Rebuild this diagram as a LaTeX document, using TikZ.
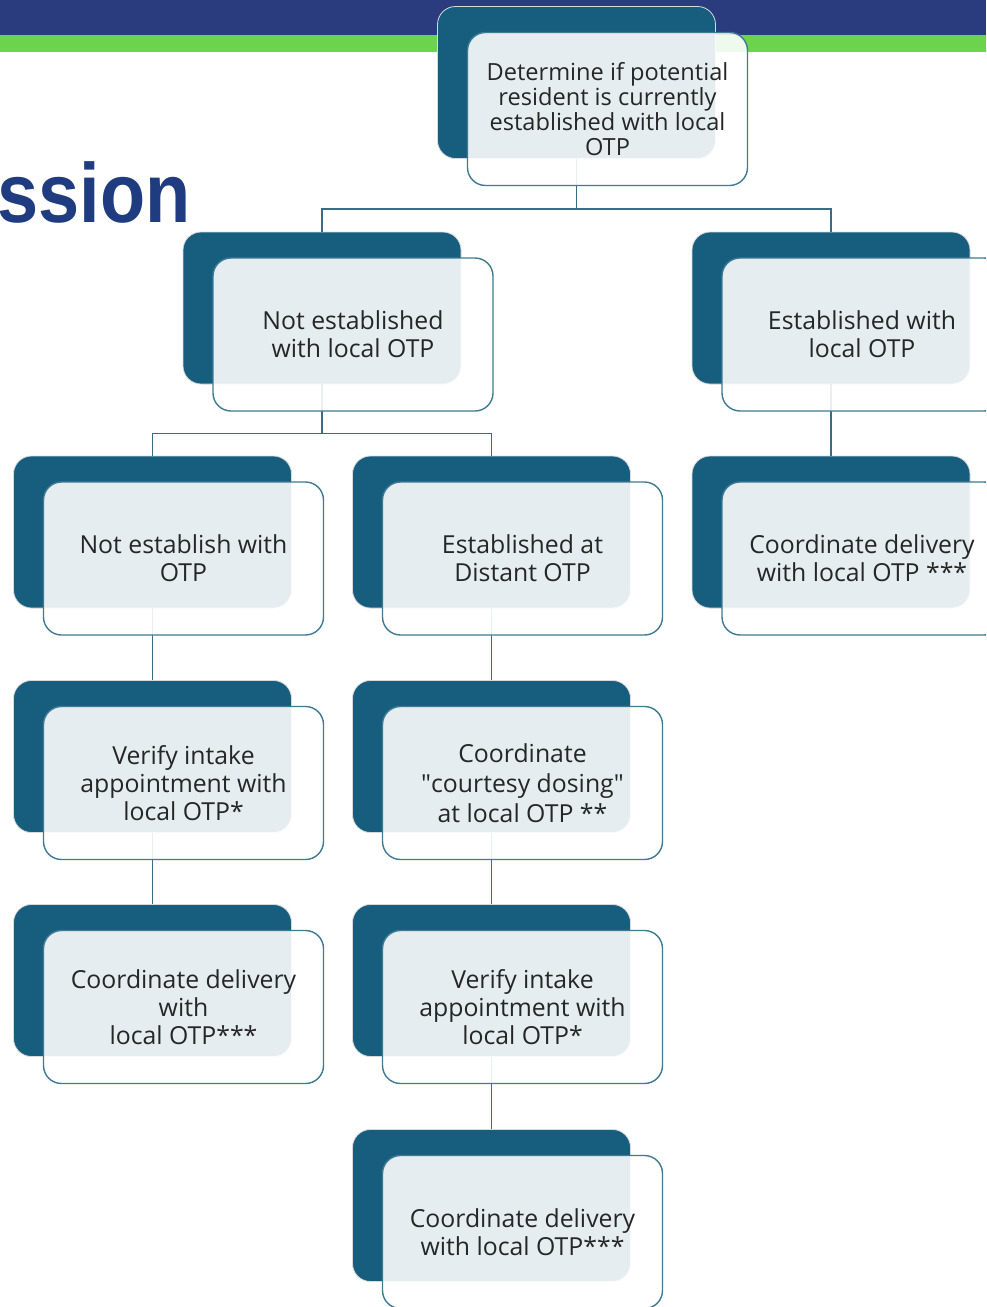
\documentclass[tikz,border=0pt]{standalone}
\usepackage{fontspec}
\setmainfont{Open Sans}
\newfontfamily\titlefont{Liberation Sans}
\usepackage{tikz}
\usetikzlibrary{positioning}
\definecolor{bannerblue}{HTML}{2B3C7E}
\definecolor{bannergreen}{HTML}{6CD44C}
\definecolor{titleblue}{HTML}{1F3C80}
\definecolor{cardteal}{HTML}{175E7E}
\definecolor{cardedge}{HTML}{3F7A94}
\definecolor{linkteal}{HTML}{3A6C85}
\tikzset{card_back/.style={rectangle, rounded corners=9pt, minimum width=139pt, minimum height=76pt, fill=cardteal, draw=black!15, line width=0.4pt}}
\tikzset{card_front/.style={rectangle, rounded corners=9pt, minimum width=140pt, minimum height=76.5pt, fill=white, fill opacity=0.89, text opacity=1, draw=cardedge, line width=0.7pt, align=center, text=black!85, font=\fontsize{12.4}{14}\selectfont}}
\tikzset{card_link/.style={draw=linkteal, line width=0.9pt}}

\begin{document}
\begin{tikzpicture}[x=0.5pt, y=-0.5pt]
    \useasboundingbox (0,0) rectangle (986,1307);
    \clip (0,0) rectangle (986,1307);
    % banner and title
    \fill[bannerblue] (0,0) rectangle (986,35);
    \fill[bannergreen] (0,35) rectangle (986,52);
    \node[anchor=base east, inner sep=0pt, xscale=0.88, text=titleblue, font=\titlefont\bfseries\fontsize{42}{42}\selectfont] (title) at (191,222) {ssion};

    % dark cards
    \node[card_back] (det) at (576.5,82.5) {};
    \node[card_back] (nl) at (322,308) {};
    \node[card_back] (el) at (831,308) {};
    \node[card_back] (no) at (152.5,532) {};
    \node[card_back] (dist) at (491.5,532) {};
    \node[card_back] (cr) at (831,532) {};
    \node[card_back] (vl) at (152.5,756.5) {};
    \node[card_back] (court) at (491.5,756.5) {};
    \node[card_back] (cl) at (152.5,980.5) {};
    \node[card_back] (vm) at (491.5,980.5) {};
    \node[card_back] (cm) at (491.5,1205.5) {};

    % connectors
    \coordinate (bus1) at (576.5,209);
    \coordinate (bus2) at (322,433.5);
    \draw[card_link] (det.south) -- (bus1) -| (nl.north);
    \draw[card_link] (bus1) -| (el.north);
    \draw[card_link] (nl.south) -- (bus2) -| (no.north);
    \draw[card_link] (bus2) -| (dist.north);
    \path[card_link]
        (el) edge (cr)
        (no) edge (vl)
        (vl) edge (cl)
        (dist) edge (court)
        (court) edge (vm)
        (vm) edge (cm)
    ;

    % light cards with text
    \node[card_front, font=\fontsize{11.8}{12.5}\selectfont] (detF) at ([xshift=15.5pt,yshift=-13.25pt]det.center) {Determine if potential\\resident is currently\\established with local\\OTP};
    \node[card_front] (nlF) at ([xshift=15.5pt,yshift=-13.25pt]nl.center) {Not established\\with local OTP};
    \node[card_front] (elF) at ([xshift=15.5pt,yshift=-13.25pt]el.center) {Established with\\local OTP};
    \node[card_front] (noF) at ([xshift=15.5pt,yshift=-13.25pt]no.center) {Not establish with\\OTP};
    \node[card_front] (distF) at ([xshift=15.5pt,yshift=-13.25pt]dist.center) {Established at\\Distant OTP};
    \node[card_front] (crF) at ([xshift=15.5pt,yshift=-13.25pt]cr.center) {Coordinate delivery\\with local OTP ***};
    \node[card_front] (vlF) at ([xshift=15.5pt,yshift=-13.25pt]vl.center) {Verify intake\\appointment with\\local OTP*};
    \node[card_front, font=\fontsize{12.4}{15}\selectfont] (courtF) at ([xshift=15.5pt,yshift=-13.25pt]court.center) {Coordinate\\\textquotedbl courtesy dosing\textquotedbl\\at local OTP **};
    \node[card_front] (clF) at ([xshift=15.5pt,yshift=-13.25pt]cl.center) {Coordinate delivery\\with\\local OTP***};
    \node[card_front] (vmF) at ([xshift=15.5pt,yshift=-13.25pt]vm.center) {Verify intake\\appointment with\\local OTP*};
    \node[card_front] (cmF) at ([xshift=15.5pt,yshift=-13.25pt]cm.center) {Coordinate delivery\\with local OTP***};
\end{tikzpicture}
\end{document}
